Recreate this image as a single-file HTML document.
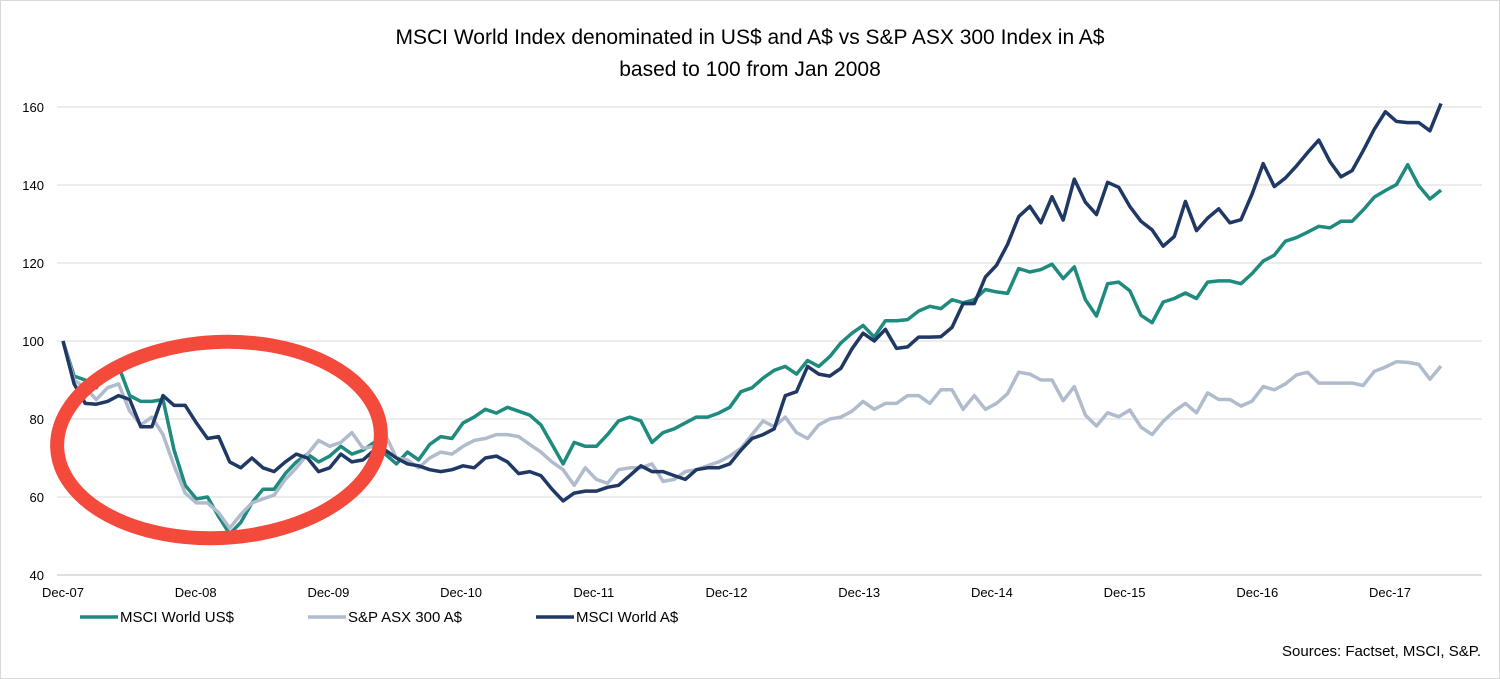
<!DOCTYPE html>
<html><head><meta charset="utf-8"><style>
body{margin:0;background:#fff;width:1500px;height:679px;overflow:hidden}
svg{display:block;font-family:"Liberation Sans",sans-serif}
</style></head><body>
<svg id="chart" width="1500" height="679" viewBox="0 0 1500 679">
<rect x="0.5" y="0.5" width="1499" height="678" fill="#fff" stroke="#d9d9d9"/>
<text x="750" y="44" text-anchor="middle" font-size="21" fill="#000">MSCI World Index denominated in US$ and A$ vs S&amp;P ASX 300 Index in A$</text>
<text x="750" y="76" text-anchor="middle" font-size="21" fill="#000">based to 100 from Jan 2008</text>
<g id="grid"></g><g id="series"></g>
<ellipse cx="219" cy="440" rx="162" ry="98" transform="rotate(-3 219 440)" fill="none" stroke="#f44a3c" stroke-width="14"/>
<g>
<line x1="80" y1="617" x2="118" y2="617" stroke="#1f8a7e" stroke-width="3.5"/>
<text x="120" y="622" font-size="15">MSCI World US$</text>
<line x1="308" y1="617" x2="346" y2="617" stroke="#b0bccd" stroke-width="3.5"/>
<text x="348" y="622" font-size="15">S&amp;P ASX 300 A$</text>
<line x1="536" y1="617" x2="574" y2="617" stroke="#1f3864" stroke-width="3.5"/>
<text x="576" y="622" font-size="15">MSCI World A$</text>
</g>
<text x="1481" y="656" text-anchor="end" font-size="15">Sources: Factset, MSCI, S&amp;P.</text>
</svg>
<script>
const yTicks=[40,60,80,100,120,140,160];
const xTickLabels=["Dec-07","Dec-08","Dec-09","Dec-10","Dec-11","Dec-12","Dec-13","Dec-14","Dec-15","Dec-16","Dec-17"];
const msciUsd=[100,91,90,88,92.5,93.5,86,84.5,84.5,85,72,63,59.5,
60,55,50.5,53.5,58.5,62,62,66,69,71,69,70.5,
73,71,72,74,71,68.5,71.5,69.5,73.5,75.5,75,79,
80.5,82.5,81.5,83,82,81,78.5,73.5,68.5,74,73,73,
76,79.5,80.5,79.5,74,76.5,77.5,79,80.5,80.5,81.5,83,
87,88,90.5,92.5,93.5,91.5,95,93.5,96,99.5,102,104,
101,105.2,105.2,105.5,107.7,108.9,108.3,110.6,109.8,110.6,113.2,112.6,
112.2,118.6,117.7,118.3,119.7,116,119,110.6,106.4,114.7,115.1,112.9,
106.6,104.7,110,110.9,112.3,110.9,115.1,115.4,115.4,114.7,117.3,120.5,
122,125.6,126.5,127.9,129.4,129,130.7,130.7,133.6,136.9,138.6,140.1,
145.2,139.8,136.4,138.7];
const asx300=[100,90,88,85,88,89,82,78.5,80.5,76,68,61,58.5,
58.5,56,52,55.5,58.5,59.5,60.5,64.5,67.5,71,74.5,73,
74,76.5,72.5,73,76,70,69.5,67.5,70,71.5,71,73,
74.5,75,76,76,75.5,73.5,71.5,69,67,63,67.5,64.5,
63.5,67,67.5,67.5,68.5,64,64.5,66.5,67,68,69,70.5,
72.5,76,79.5,78,80.5,76.5,75,78.5,80,80.5,82,84.5,
82.5,84,84,86,86,84,87.5,87.5,82.5,86,82.5,84,
86.5,92,91.5,90,90,84.7,88.3,81,78.2,81.6,80.6,82.3,
77.9,76,79.4,82,84,81.6,86.7,85,85,83.3,84.6,88.3,
87.5,89,91.3,92,89.2,89.2,89.2,89.2,88.6,92.2,93.3,94.7,
94.5,94,90.2,93.6];
const msciAud=[100,89,84,83.8,84.5,86,85,78,78,86,83.5,83.5,79,
75,75.5,69,67.5,70,67.5,66.5,69,71,70,66.5,67.5,
71,69,69.5,72,72,70,68.5,68,67,66.5,67,68,
67.5,70,70.5,69,66,66.5,65.5,62,59,61,61.5,61.5,
62.5,63,65.5,68,66.5,66.5,65.5,64.5,67,67.5,67.5,68.5,
72,75,76,77.5,86,87,93.5,91.5,91,93,98,102,
100,103,98.1,98.5,101,101,101.1,103.5,109.6,109.6,116.4,119.4,
124.8,131.9,134.5,130.3,137,131,141.5,135.6,132.4,140.7,139.4,134.5,
130.7,128.5,124.3,126.8,135.8,128.3,131.5,133.9,130.3,131.1,137.7,145.5,
139.6,141.8,144.9,148.3,151.5,146,142.1,143.7,148.8,154.3,158.8,156.3,
156,156,153.9,160.9];
const NS='http://www.w3.org/2000/svg';
const X0=63,XEND=1441,Y0=575,Y1=107;
function xS(i){return X0+(XEND-X0)*i/124;}
function yS(v){return Y0-(v-40)*(Y0-Y1)/120;}
const grid=document.getElementById('grid');
yTicks.forEach(t=>{
  const l=document.createElementNS(NS,'line');
  l.setAttribute('x1',57);l.setAttribute('x2',1482);
  l.setAttribute('y1',yS(t));l.setAttribute('y2',yS(t));
  l.setAttribute('stroke',t===40?'#bfbfbf':'#d9d9d9');l.setAttribute('stroke-width',1);
  
  
  grid.appendChild(l);
  const tx=document.createElementNS(NS,'text');
  tx.setAttribute('x',44);tx.setAttribute('y',yS(t)+5);tx.setAttribute('text-anchor','end');
  tx.setAttribute('font-size','13');tx.textContent=t;
  
  
  grid.appendChild(tx);
});
xTickLabels.forEach((lab,k)=>{
  const tx=document.createElementNS(NS,'text');
  tx.setAttribute('x',X0+k*132.7);tx.setAttribute('y',597);tx.setAttribute('text-anchor','middle');
  tx.setAttribute('font-size','13');tx.textContent=lab;
  
  
  grid.appendChild(tx);
});
const ser=document.getElementById('series');
[[msciUsd,'#1f8a7e','line-msci-world-usd'],[asx300,'#b0bccd','line-sp-asx-300'],[msciAud,'#1f3864','line-msci-world-aud']].forEach(([d,c,n])=>{
  const p=document.createElementNS(NS,'polyline');
  p.setAttribute('points',d.map((v,i)=>xS(i).toFixed(1)+','+yS(v).toFixed(1)).join(' '));
  p.setAttribute('fill','none');p.setAttribute('stroke',c);p.setAttribute('stroke-width','3.5');
  p.setAttribute('stroke-linejoin','round');
  
  
  ser.appendChild(p);
});
</script>
</body></html>
